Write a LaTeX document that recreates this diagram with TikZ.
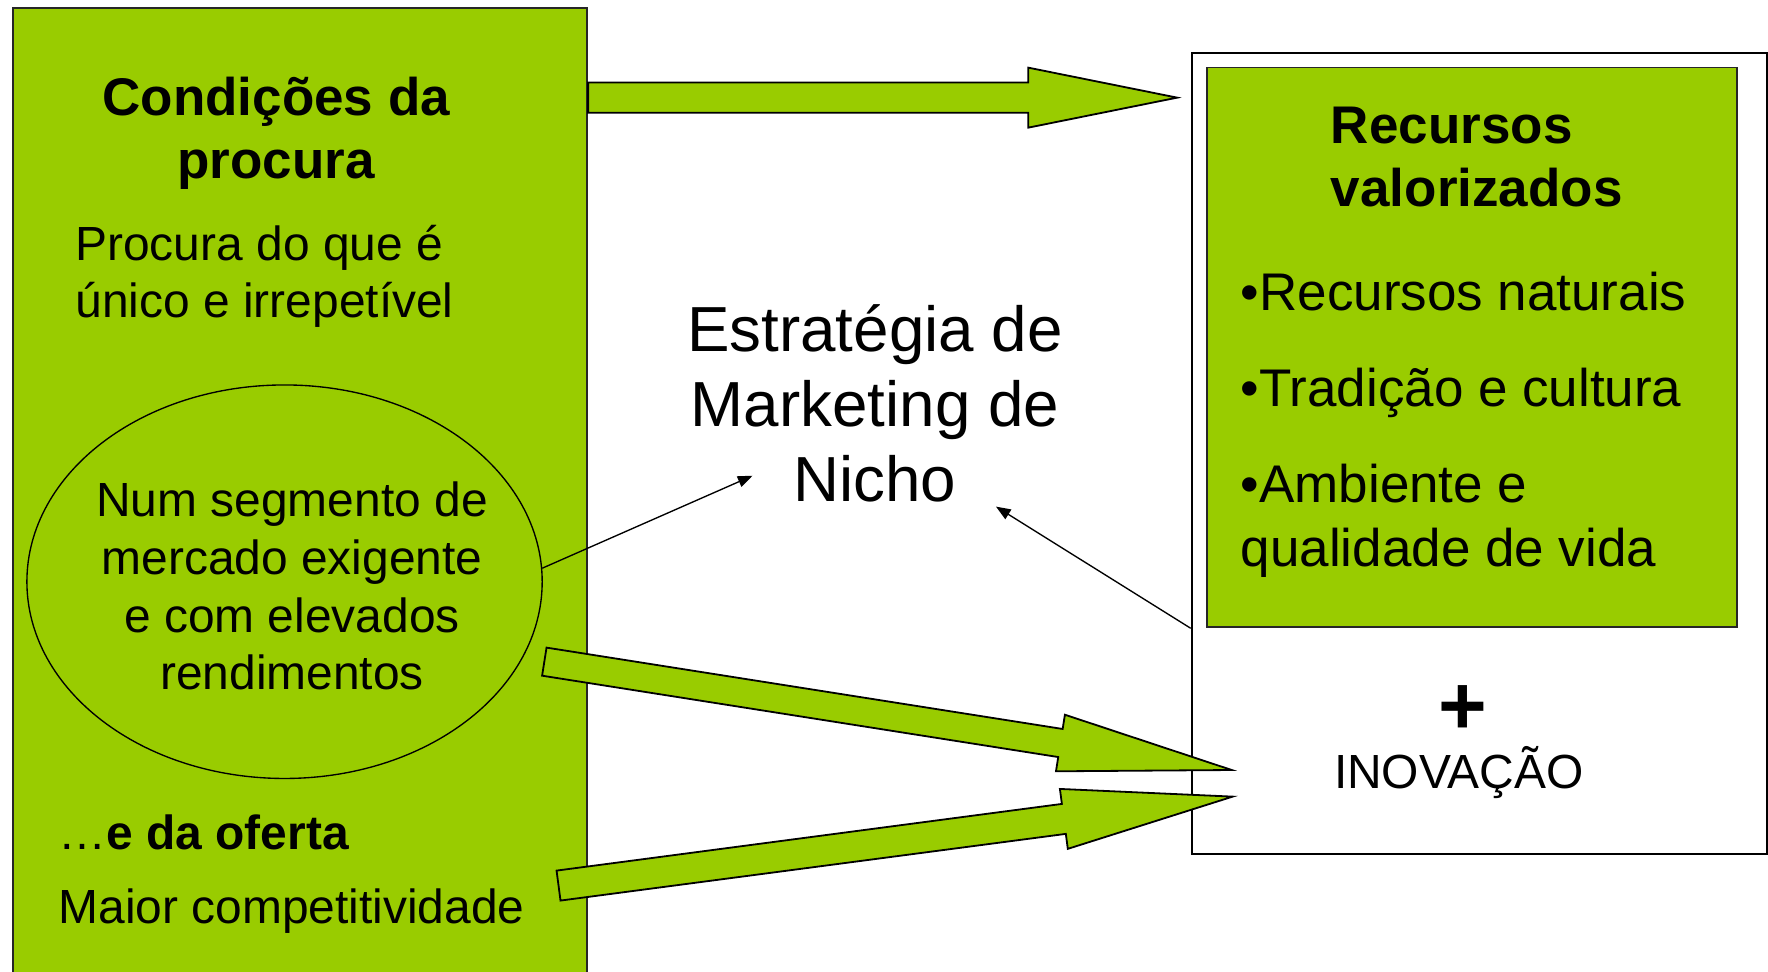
\documentclass[tikz,border=0pt]{standalone}
\usepackage{fontspec}
\setmainfont{Liberation Sans}
\usetikzlibrary{calc,arrows.meta,shapes.geometric}

\definecolor{nichegreen}{RGB}{153,204,0}

% block arrow: tail, tip, head length, half shaft, half head
\newcommand{\fatarrow}[5]{%
  \coordinate (hb) at ($(#2)!#3!(#1)$);
  \filldraw[bigarrow] ($(#1)!#4!90:(#2)$) -- ($(hb)!#4!90:(#2)$) -- ($(hb)!#5!90:(#2)$) -- (#2) -- ($(hb)!#5!-90:(#2)$) -- ($(hb)!#4!-90:(#2)$) -- ($(#1)!#4!-90:(#2)$) -- cycle;}

\begin{document}
\begin{tikzpicture}[x=0.5pt,y=0.5pt,yscale=-1,xscale=1,
  greenbox/.style={draw=black!85,line width=0.8pt,fill=nichegreen,inner sep=0pt,anchor=north west},
  plainbox/.style={draw=black,line width=0.8pt,fill=white,inner sep=0pt,anchor=north west},
  bigarrow/.style={draw=black,line width=0.8pt,fill=nichegreen},
  thinarrow/.style={line width=0.6pt,-{Triangle[length=6.5pt,width=5pt]}},
  titletxt/.style={inner sep=0pt,font=\fontsize{23.5}{28}\selectfont\bfseries},
  bodytxt/.style={inner sep=0pt,font=\fontsize{21.25}{25.7}\selectfont},
  itemtxt/.style={inner sep=0pt,font=\fontsize{23.5}{28.1}\selectfont,anchor=base west,align=left},
  bigtxt/.style={inner sep=0pt,font=\fontsize{28.25}{33.25}\selectfont}]
\useasboundingbox (0,0) rectangle (1568,862);

%Shape: Rectangle
\node[greenbox,minimum width=254.75pt,minimum height=432pt] (procura) at (10.5,6) {};
%Shape: Rectangle
\node[plainbox,minimum width=255pt,minimum height=355.2pt] (recursos) at (1056,46.4) {};
%Shape: Rectangle
\node[greenbox,minimum width=234.85pt,minimum height=248.25pt] (valor) at (1070,59.1) {};
%Shape: Ellipse
\node[ellipse,draw=black,line width=0.6pt,fill=nichegreen,minimum width=228.5pt,minimum height=174.5pt,inner sep=0pt] (segmento) at (252.35,515.9) {};

%Block Arrows
\coordinate (topTip) at (1044,86.6);
\coordinate (topTail) at (procura.east |- topTip);
\fatarrow{topTail}{topTip}{66pt}{6.7pt}{13.3pt}
\coordinate (tailA) at (482.75,586.8);
\coordinate (tipA) at (1092.4,682.9);
\fatarrow{tailA}{tipA}{76.9pt}{6.3pt}{12.7pt}
\coordinate (tailB) at (495.35,785.4);
\coordinate (tipB) at (1093.2,706.5);
\fatarrow{tailB}{tipB}{75.5pt}{6.7pt}{13.4pt}

%Straight Lines
\coordinate (nichoL) at (667.4,421.9);
\draw[thinarrow] (segmento.3.5) -- (nichoL);
%Straight Lines
\coordinate (nichoR) at (883.3,449.3);
\draw[thinarrow] (recursos.west |- valor.south) -- (nichoR);

% Text Node
\node[titletxt,anchor=base,align=center] (condicoes) at (245,158) {Condições da\\procura};
% Text Node
\node[bodytxt,anchor=base west,align=left] (unico) at (66.5,282) {Procura do que é\\único e irrepetível};
% Text Node
\node[bodytxt,anchor=base,align=center] (segtxt) at (259,611.9) {Num segmento de\\mercado exigente\\e com elevados\\rendimentos};
% Text Node
\node[bodytxt,anchor=base west] (oferta) at (51.5,753.8) {…\textbf{e da oferta}};
% Text Node
\node[bodytxt,anchor=base west] (compet) at (51.5,818.8) {Maior competitividade};
% Text Node
\node[bigtxt,anchor=base,align=center] (nicho) at (776,444.9) {Estratégia de\\Marketing de\\Nicho};
% Text Node
\node[titletxt,anchor=base west,align=left] (valortit) at (1180,183.3) {Recursos\\valorizados};
% Text Node
\node[itemtxt] (naturais) at (1100,275) {•Recursos naturais};
\node[itemtxt] (tradicao) at (1100,360.7) {•Tradição e cultura};
\node[itemtxt] (ambiente) at (1100,502) {•Ambiente e\\qualidade de vida};
% Text Node
\node[inner sep=0pt,anchor=base,font=\fontsize{37}{44}\selectfont\bfseries] (mais) at (1297,651) {+};
\node[bodytxt,anchor=base] (inovacao) at (1293.7,699.1) {INOVAÇÃO};

\end{tikzpicture}
\end{document}
